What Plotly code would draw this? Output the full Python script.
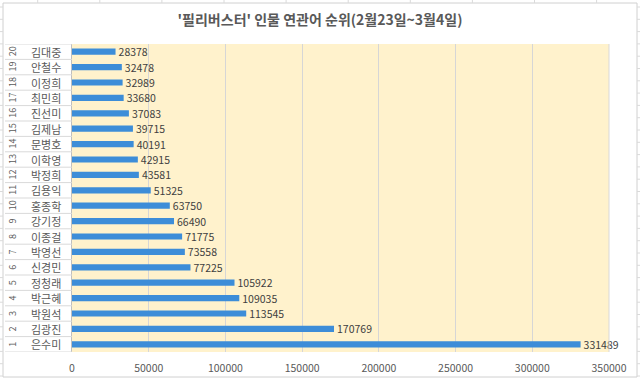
import plotly.graph_objects as go

ranks = list(range(1, 21))
names = ["은수미", "김광진", "박원석", "박근혜", "정청래", "신경민", "박영선", "이종걸", "강기정", "홍종학",
         "김용익", "박정희", "이학영", "문병호", "김제남", "진선미", "최민희", "이정희", "안철수", "김대중"]
values = [331489, 170769, 113545, 109035, 105922, 77225, 73558, 71775, 66490, 63750,
          51325, 43581, 42915, 40191, 39715, 37083, 33680, 32989, 32478, 28378]
x_ticks = [0, 50000, 100000, 150000, 200000, 250000, 300000, 350000]
title = "'필리버스터' 인물 연관어 순위(2월23일~3월4일)"

W, H = 640, 379
L, R, T, B = 72, 609, 44, 352
FONT = "Noto Sans CJK KR"


def px(x):
    return (x - L) / (R - L)


def py(y):
    return (B - y) / (B - T)


fig = go.Figure()
fig.add_trace(go.Bar(
    x=values, y=ranks, orientation="h",
    marker=dict(color="#3D8DD8", line=dict(width=0)),
    width=0.4,
    text=[str(v) for v in values], textposition="outside", constraintext="none",
    textfont=dict(family=FONT, size=10.5, color="#404040"),
    cliponaxis=False, hoverinfo="skip",
))

shapes = []
# chart area border
shapes.append(dict(type="rect", xref="paper", yref="paper", x0=px(3), x1=px(637), y0=py(377), y1=py(3),
                   line=dict(color="#D0D0D0", width=1), layer="below"))
# spreadsheet grid outside chart
gx = 37.7
while gx < W:
    shapes.append(dict(type="line", xref="paper", yref="paper", x0=px(gx), x1=px(gx), y0=py(0), y1=py(3),
                       line=dict(color="#DADADA", width=1)))
    gx += 62.1
gy = 7.0
while gy < H:
    shapes.append(dict(type="line", xref="paper", yref="paper", x0=px(637), x1=px(640), y0=py(gy), y1=py(gy),
                       line=dict(color="#DADADA", width=1)))
    shapes.append(dict(type="line", xref="paper", yref="paper", x0=px(0), x1=px(3), y0=py(gy), y1=py(gy),
                       line=dict(color="#DADADA", width=1)))
    gy += 12.3
# category separators in the label area
for k in range(0, 21):
    shapes.append(dict(type="line", xref="paper", yref="y", x0=px(5), x1=0, y0=k + 0.5, y1=k + 0.5,
                       line=dict(color="#D9D9D9", width=1)))
# right edge of plot area
shapes.append(dict(type="line", xref="paper", yref="paper", x0=1, x1=1, y0=0, y1=1,
                   line=dict(color="#D9D9D9", width=1)))

annotations = []
for r, n in zip(ranks, names):
    annotations.append(dict(x=px(46), y=r, xref="paper", yref="y", text=n, showarrow=False,
                            font=dict(family=FONT, size=11, color="#595959"), xanchor="center", yanchor="middle"))
    annotations.append(dict(x=px(12.5), y=r, xref="paper", yref="y", text=str(r), showarrow=False, textangle=-90,
                            font=dict(family=FONT, size=9, color="#595959"), xanchor="center", yanchor="middle"))

fig.update_layout(
    width=W, height=H,
    margin=dict(l=L, r=W - R, t=T, b=H - B, pad=0, autoexpand=False),
    paper_bgcolor="white", plot_bgcolor="#FFF2CC",
    title=dict(text="<b>" + title + "</b>", x=0.5, xref="container", xanchor="center", y=1 - 20 / H, yanchor="middle",
               font=dict(family=FONT, size=14, color="#595959")),
    font=dict(family=FONT),
    showlegend=False,
    xaxis=dict(range=[0, 350000], tickvals=x_ticks, ticktext=[str(t) for t in x_ticks],
               showgrid=True, gridcolor="#D6D6D6", gridwidth=1, zeroline=False, automargin=False,
               showline=False, ticks="", ticklabelstandoff=8, fixedrange=True,
               tickfont=dict(family=FONT, size=10.5, color="#595959")),
    yaxis=dict(range=[0.5, 20.5], showticklabels=False, showgrid=False, zeroline=False, automargin=False,
               showline=True, linecolor="#BFBFBF", linewidth=1, ticks="", fixedrange=True),
    shapes=shapes, annotations=annotations,
)

fig.write_html("out.html", config={"displayModeBar": False},
               post_script="document.body.style.margin='0';document.body.style.overflow='hidden';")
